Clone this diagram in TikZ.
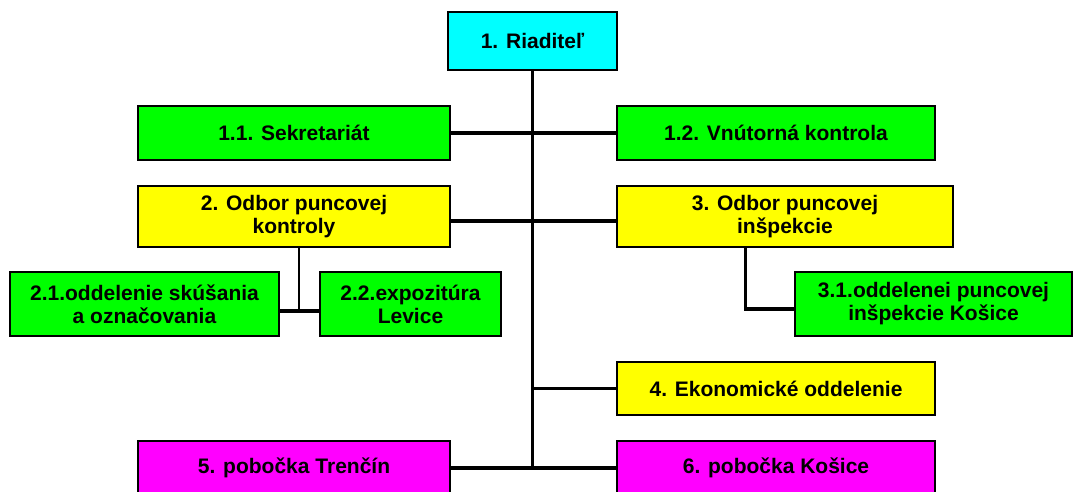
\documentclass[tikz,border=0pt]{standalone}
\usepackage{fontspec}
\setmainfont{Liberation Sans}
\usepackage{xcolor}
\usetikzlibrary{positioning, calc}
\definecolor{bosscyan}{HTML}{00FFFF}
\definecolor{unitgreen}{HTML}{00FF00}
\definecolor{deptyellow}{HTML}{FFFF00}
\definecolor{branchpink}{HTML}{FF00FF}

\begin{document}
\begin{tikzpicture}[
  x=1pt, y=-1pt,
  unitbox/.style={rectangle, draw=black, line width=2.8pt, inner sep=0pt, minimum height=54pt, align=center, font=\fontsize{21}{23}\selectfont\bfseries},
  link/.style={line width=3.2pt, draw=black},
  trunk/.style={line width=2.2pt, draw=black}
]
  \useasboundingbox (0,0) rectangle (1074,491);

  \node[unitbox, fill=bosscyan, minimum width=169pt, minimum height=58pt] (boss) at (532.5, 41) {1. Riaditeľ};

  \node[unitbox, fill=unitgreen, minimum width=312pt] (sekr) at (294, 133) {1.1. Sekretariát};
  \node[unitbox, fill=unitgreen, minimum width=318pt] (vnut) at (776, 133) {1.2. Vnútorná kontrola};

  \node[unitbox, fill=deptyellow, minimum width=312pt, minimum height=61pt] (odb2) at (294, 216.5) {2. Odbor puncovej\\kontroly};
  \node[unitbox, fill=deptyellow, minimum width=336pt, minimum height=61pt] (odb3) at (785, 216.5) {3. Odbor puncovej\\inšpekcie};

  \node[unitbox, fill=unitgreen, minimum width=269pt, minimum height=64pt] (skus) at (144.5, 304) {2.1.oddelenie skúšania\\a označovania};
  \node[unitbox, fill=unitgreen, minimum width=181pt, minimum height=64pt] (levice) at (410.5, 304) {2.2.expozitúra\\Levice};
  \node[unitbox, fill=unitgreen, minimum width=277pt, minimum height=64pt] (insp) at (933.5, 304) {3.1.oddelenei puncovej\\inšpekcie Košice};

  \node[unitbox, fill=deptyellow, minimum width=318pt, minimum height=53pt] (ekon) at (776, 388.5) {4. Ekonomické oddelenie};

  \node[unitbox, fill=branchpink, minimum width=312pt] (tren) at (294, 468) {5. pobočka Trenčín};
  \node[unitbox, fill=branchpink, minimum width=318pt] (kosice) at (776, 468) {6. pobočka Košice};

  \coordinate (j2) at (299, 311);
  \coordinate (j3) at (745.5, 309);
  \coordinate (jm) at (532.5, 221);

  % main line
  \draw[trunk] (boss.south) -- (boss.south |- tren.east);
  \draw[link] (sekr.east) -- (vnut.west);
  \draw[link] (odb2.east |- jm) -- (odb3.west |- jm);
  \draw[link] (boss.south |- ekon.west) -- (ekon.west);
  \draw[link] (tren.east) -- (kosice.west);

  % sections
  \draw[trunk] (odb2.south -| j2) -- (j2);
  \draw[link] (skus.east |- j2) -- (levice.west |- j2);
  \draw[link] (odb3.south -| j3) -- (j3) -- (insp.west |- j3);
\end{tikzpicture}
\end{document}
